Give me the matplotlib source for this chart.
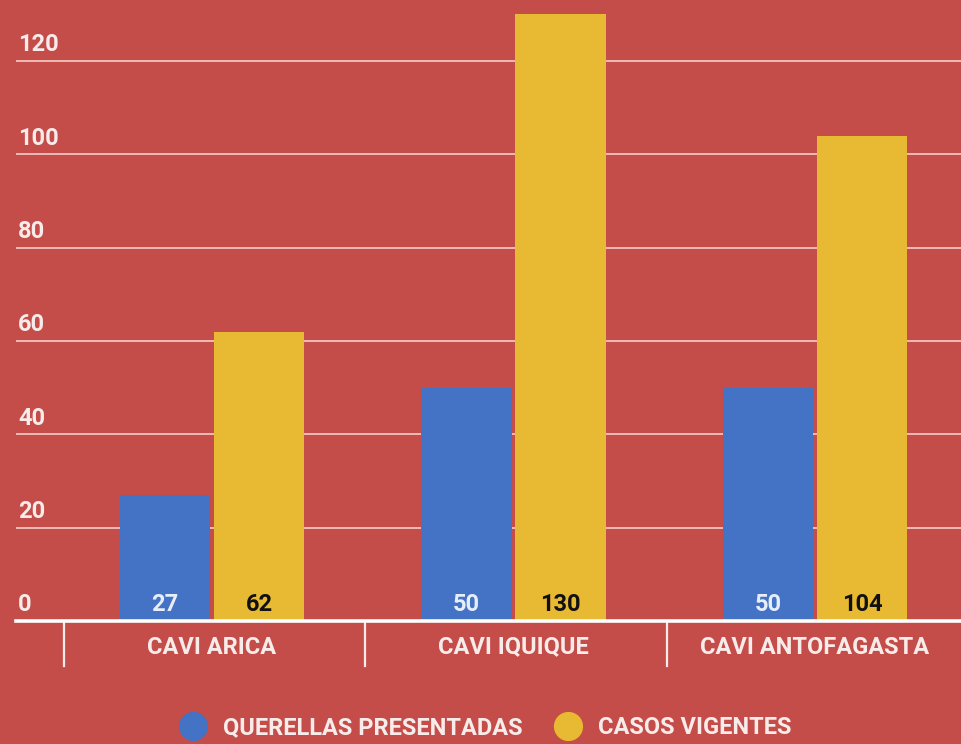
# Querellas presentadas vs casos vigentes por CAVI.

import numpy as np
import matplotlib.pyplot as plt
import matplotlib.transforms as mtransforms
from matplotlib.lines import Line2D

categories = ['CAVI ARICA', 'CAVI IQUIQUE', 'CAVI ANTOFAGASTA']
querellas = [27, 50, 50]
casos = [62, 130, 104]
series_names = ['QUERELLAS PRESENTADAS', 'CASOS VIGENTES']
yticks = [0, 20, 40, 60, 80, 100, 120]

bg = '#C44D4A'
blue = '#4472C4'
yellow = '#E8B932'
txt = '#F7ECEA'

plt.rcParams['font.family'] = ['Roboto', 'DejaVu Sans']

fig = plt.figure(figsize=(9.61, 7.44), dpi=100, facecolor=bg)
ax = fig.add_axes([16 / 961, 123 / 744, 1 - 16 / 961, 621 / 744])
ax.set_facecolor(bg)

x = np.arange(len(categories))
w = 0.30
off = 0.156
b1 = ax.bar(x - off, querellas, w, color=blue, zorder=3)
b2 = ax.bar(x + off, casos, w, color=yellow, zorder=3)

ax.set_xlim(-0.650, 2.484)
ax.set_ylim(0, 133.1)

for s in ax.spines.values():
    s.set_visible(False)
ax.set_xticks([])
ax.set_yticks([])

# gridlines and labels
trans = mtransforms.blended_transform_factory(ax.transAxes, ax.transData)
for t in yticks:
    if t == 0:
        ax.axhline(0, color='white', lw=2.6, zorder=4, clip_on=False)
    else:
        ax.axhline(t, color='#F2C4C0', lw=1.3, zorder=1)
    ax.text(2 / 945, t + 1.0, str(t), transform=trans, ha='left', va='bottom',
            fontsize=17, color=txt, fontweight='semibold')

# value labels at bottom of bars
for rect, v in zip(b1, querellas):
    ax.text(rect.get_x() + rect.get_width() / 2, 1.1, str(v), ha='center',
            va='bottom', fontsize=17, color='#E6EEFA', fontweight='semibold', zorder=5)
for rect, v in zip(b2, casos):
    ax.text(rect.get_x() + rect.get_width() / 2, 1.1, str(v), ha='center',
            va='bottom', fontsize=17, color='#111111', fontweight='bold', zorder=5)

# category separators and labels
tx = mtransforms.blended_transform_factory(ax.transData, ax.transAxes)
for sep in [-0.5, 0.5, 1.5, 2.5]:
    ax.plot([sep + 0.008, sep + 0.008], [0, -0.072], transform=tx,
            color='#F7ECEA', lw=1.6, clip_on=False)
for i, c in enumerate(categories):
    ax.text(i, -0.042, c, transform=tx, ha='center', va='center',
            fontsize=17, color=txt, fontweight='semibold')

handles = [Line2D([], [], marker='o', ls='', markersize=20, color=blue),
           Line2D([], [], marker='o', ls='', markersize=20, color=yellow)]
leg = fig.legend(handles, series_names, loc='center', ncol=2,
                 bbox_to_anchor=(0.5, 1 - 728 / 744), frameon=False,
                 handletextpad=0.3, columnspacing=0.9,
                 prop={'size': 17, 'weight': 'semibold'})
for t in leg.get_texts():
    t.set_color(txt)

fig.savefig('out.png', dpi=100, facecolor=bg)
